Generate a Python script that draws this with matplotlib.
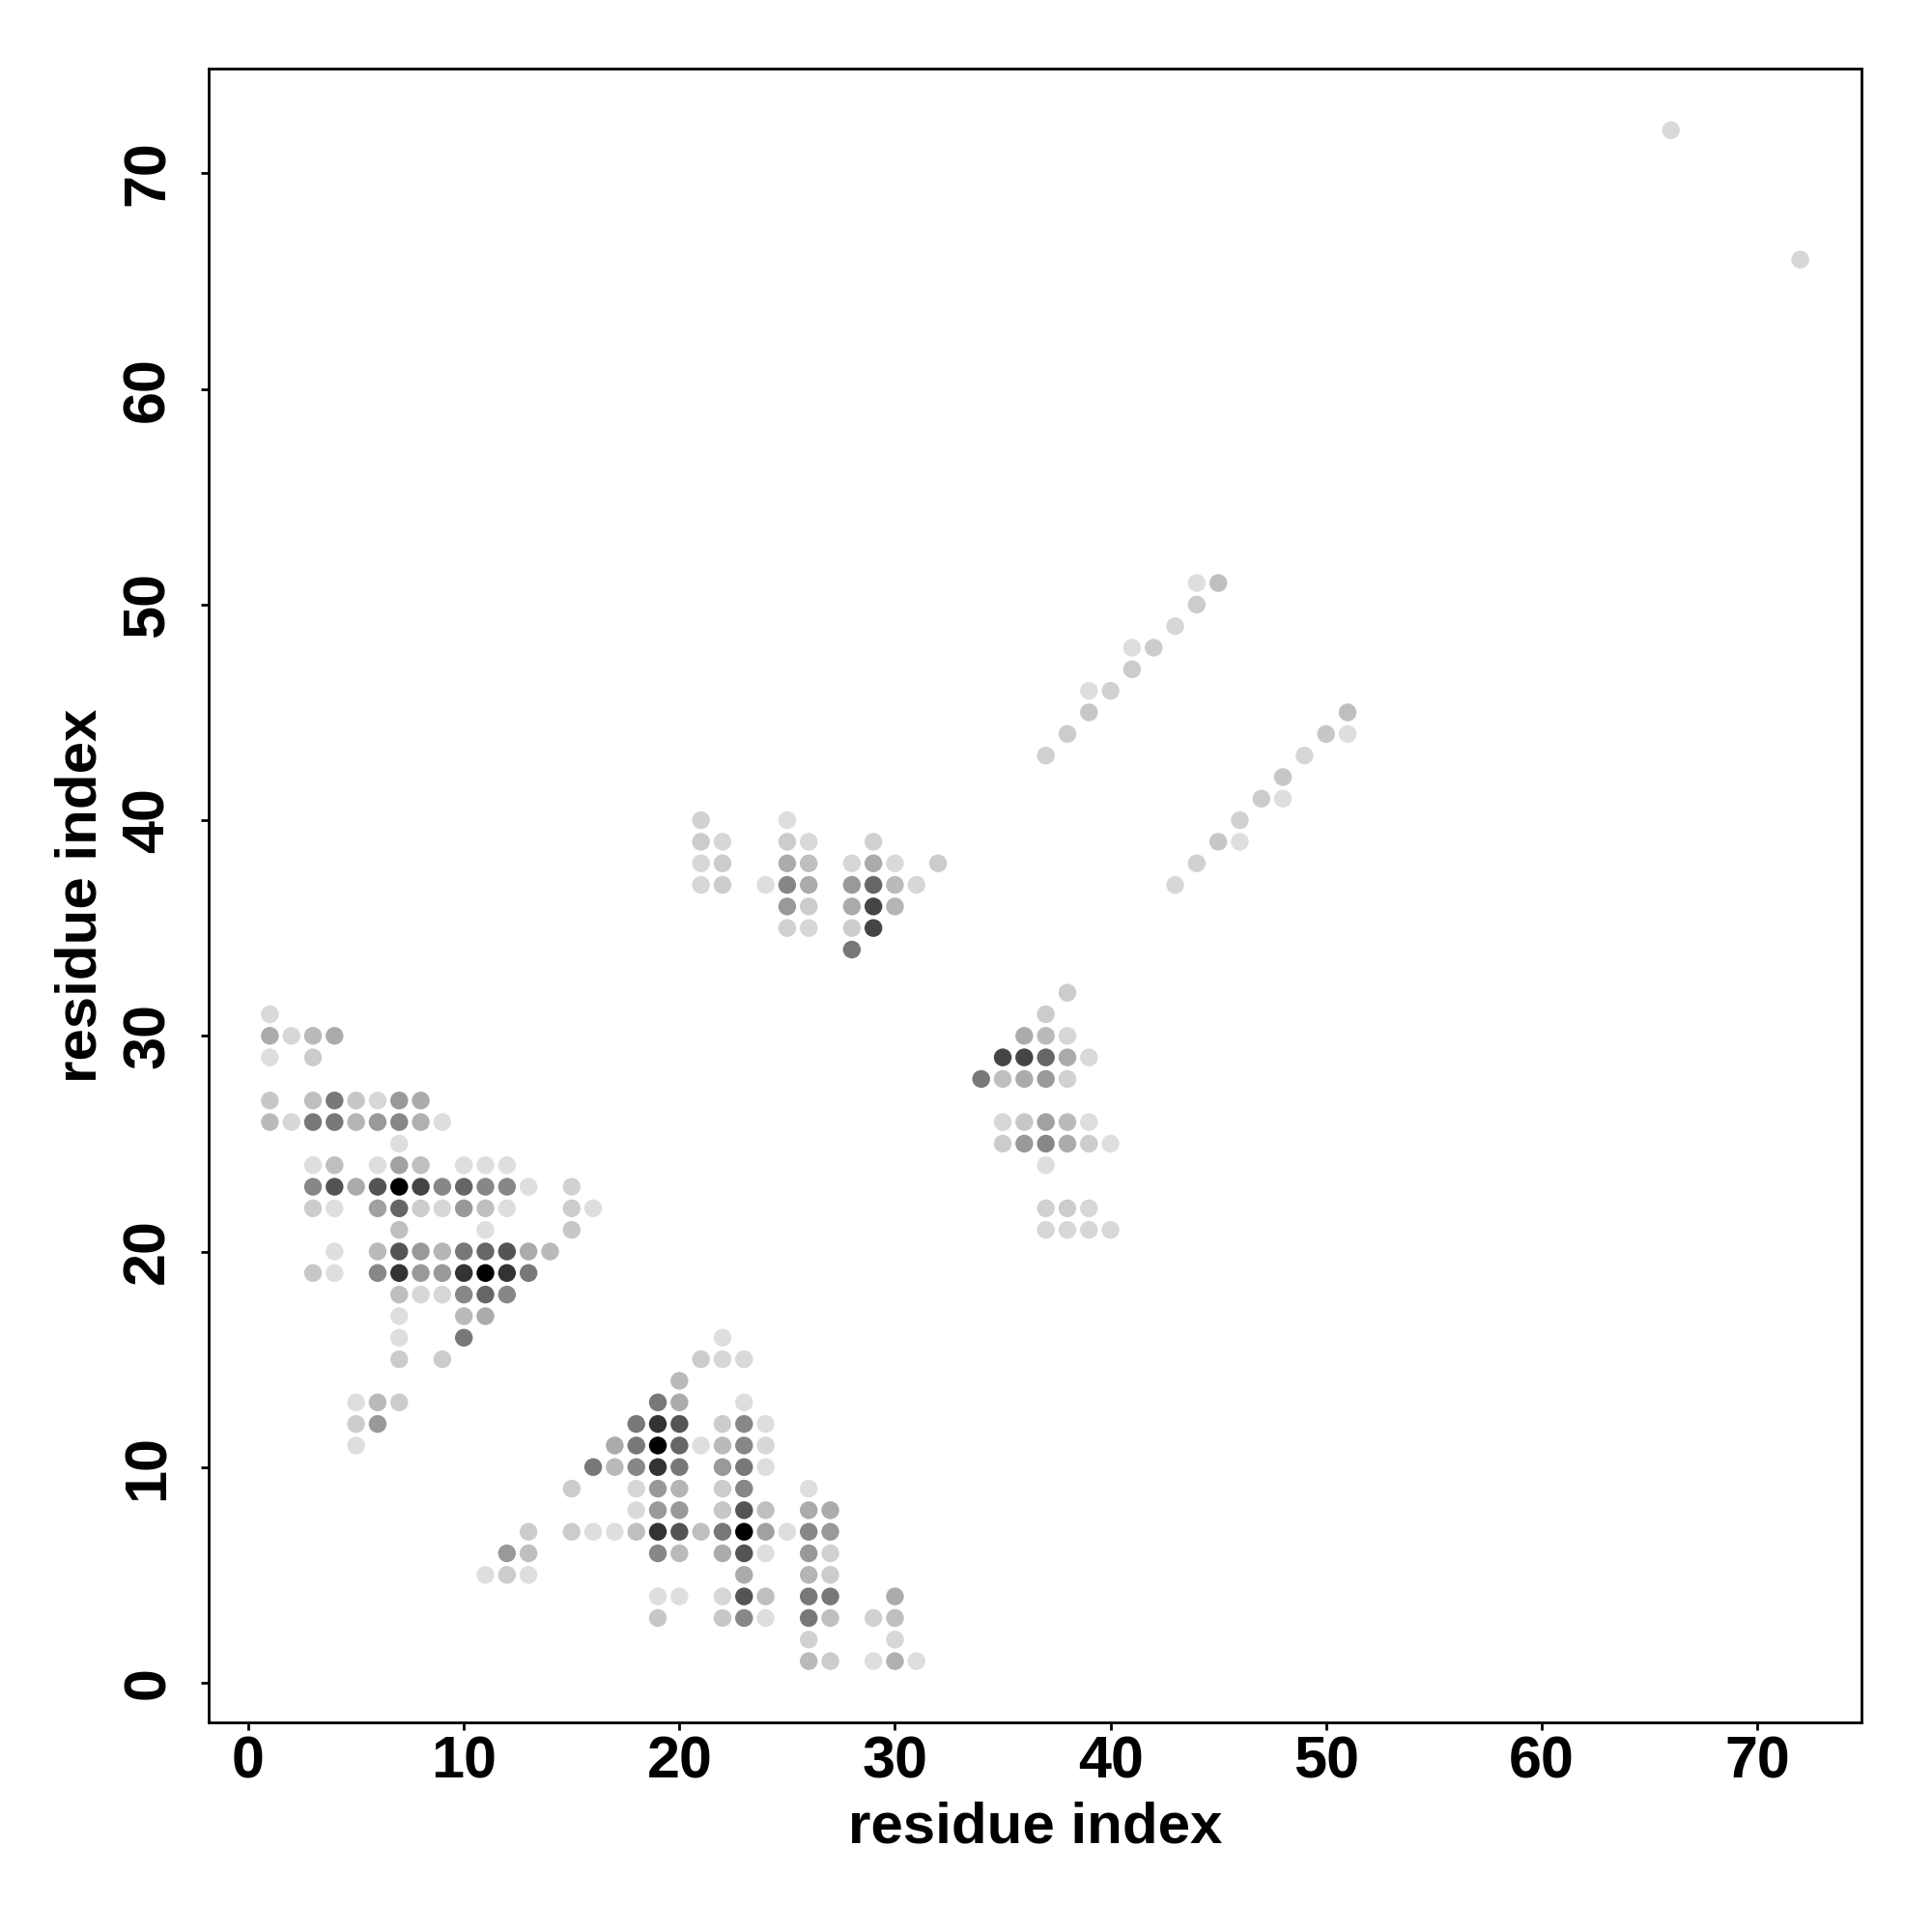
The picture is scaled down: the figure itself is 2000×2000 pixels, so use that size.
import matplotlib
matplotlib.use("Agg")
import matplotlib.pyplot as plt
from matplotlib.colors import LinearSegmentedColormap

# contact map: residue pairs (i, j) and contact strength (0 = white, 1 = black)
res_i = [
    1,                                   # row 31
    1, 2, 3, 4,                          # row 30
    1, 3,                                # row 29
    1, 3, 4, 5, 6, 7, 8,                 # row 27
    1, 2, 3, 4, 5, 6, 7, 8, 9,           # row 26
    7,                                   # row 25
    3, 4, 6, 7, 8, 10, 11, 12,           # row 24
    3, 4, 5, 6, 7, 8, 9, 10, 11, 12, 13, 15,   # row 23
    3, 4, 6, 7, 8, 9, 10, 11, 12, 15, 16,      # row 22
    7, 11, 15,                           # row 21
    4, 6, 7, 8, 9, 10, 11, 12, 13, 14,   # row 20
    3, 4, 6, 7, 8, 9, 10, 11, 12, 13,    # row 19
    7, 8, 9, 10, 11, 12,                 # row 18
    7, 10, 11,                           # row 17
    7, 10, 22,                           # row 16
    7, 9, 21, 22, 23,                    # row 15
    20,                                  # row 14
    5, 6, 7, 19, 20, 23,                 # row 13
    5, 6, 18, 19, 20, 22, 23, 24,        # row 12
    5, 17, 18, 19, 20, 21, 22, 23, 24,   # row 11
    16, 17, 18, 19, 20, 22, 23, 24,      # row 10
    15, 18, 19, 20, 22, 23, 26,          # row 9
    18, 19, 20, 22, 23, 24, 26, 27,      # row 8
    13, 15, 16, 17, 18, 19, 20, 21, 22, 23, 24, 25, 26, 27,   # row 7
    12, 13, 19, 20, 22, 23, 24, 26, 27,  # row 6
    11, 12, 13, 23, 26, 27,              # row 5
    19, 20, 22, 23, 24, 26, 27, 30,      # row 4
    19, 22, 23, 24, 26, 27, 29, 30,      # row 3
    26, 30,                              # row 2
    26, 27, 29, 30, 31,                  # row 1
    21, 25,                              # row 40
    21, 22, 25, 26, 29,                  # row 39
    21, 22, 25, 26, 28, 29, 30, 32,      # row 38
    21, 22, 24, 25, 26, 28, 29, 30, 31,  # row 37
    25, 26, 28, 29, 30,                  # row 36
    25, 26, 28, 29,                      # row 35
    28,                                  # row 34
    38, 37, 36, 37, 38,                  # rows 32-30
    35, 36, 37, 38, 39,                  # row 29
    34, 35, 36, 37, 38,                  # row 28
    35, 36, 37, 38, 39,                  # row 26
    35, 36, 37, 38, 39, 40,              # row 25
    37,                                  # row 24
    37, 38, 39,                          # row 22
    37, 38, 39, 40,                      # row 21
    37, 38, 39, 39, 40, 41, 41, 42, 43, 44, 44, 45,   # upper diagonal
    43, 44, 45, 46, 46, 47, 48, 48, 49, 50, 51, 51,   # lower diagonal
    66, 72,
]
res_j = [
    31,
    30, 30, 30, 30,
    29, 29,
    27, 27, 27, 27, 27, 27, 27,
    26, 26, 26, 26, 26, 26, 26, 26, 26,
    25,
    24, 24, 24, 24, 24, 24, 24, 24,
    23, 23, 23, 23, 23, 23, 23, 23, 23, 23, 23, 23,
    22, 22, 22, 22, 22, 22, 22, 22, 22, 22, 22,
    21, 21, 21,
    20, 20, 20, 20, 20, 20, 20, 20, 20, 20,
    19, 19, 19, 19, 19, 19, 19, 19, 19, 19,
    18, 18, 18, 18, 18, 18,
    17, 17, 17,
    16, 16, 16,
    15, 15, 15, 15, 15,
    14,
    13, 13, 13, 13, 13, 13,
    12, 12, 12, 12, 12, 12, 12, 12,
    11, 11, 11, 11, 11, 11, 11, 11, 11,
    10, 10, 10, 10, 10, 10, 10, 10,
    9, 9, 9, 9, 9, 9, 9,
    8, 8, 8, 8, 8, 8, 8, 8,
    7, 7, 7, 7, 7, 7, 7, 7, 7, 7, 7, 7, 7, 7,
    6, 6, 6, 6, 6, 6, 6, 6, 6,
    5, 5, 5, 5, 5, 5,
    4, 4, 4, 4, 4, 4, 4, 4,
    3, 3, 3, 3, 3, 3, 3, 3,
    2, 2,
    1, 1, 1, 1, 1,
    40, 40,
    39, 39, 39, 39, 39,
    38, 38, 38, 38, 38, 38, 38, 38,
    37, 37, 37, 37, 37, 37, 37, 37, 37,
    36, 36, 36, 36, 36,
    35, 35, 35, 35,
    34,
    32, 31, 30, 30, 30,
    29, 29, 29, 29, 29,
    28, 28, 28, 28, 28,
    26, 26, 26, 26, 26,
    25, 25, 25, 25, 25, 25,
    24,
    22, 22, 22,
    21, 21, 21, 21,
    43, 44, 45, 46, 46, 47, 48, 48, 49, 50, 51, 51,
    37, 38, 39, 39, 40, 41, 41, 42, 43, 44, 44, 45,
    72, 66,
]
strength = [
    .15,
    .33, .16, .27, .33,
    .13, .20,
    .22, .25, .53, .22, .16, .40, .33,
    .27, .16, .53, .53, .29, .40, .47, .31, .13,
    .13,
    .13, .25, .13, .37, .25, .13, .13, .13,
    .47, .67, .33, .67, 1.0, .73, .47, .60, .47, .47, .13, .18,
    .20, .13, .37, .60, .20, .16, .40, .25, .13, .20, .13,
    .25, .13, .22,
    .13, .27, .67, .40, .29, .53, .60, .67, .33, .27,
    .22, .13, .47, .80, .40, .40, .80, 1.0, .80, .53,
    .25, .16, .16, .47, .60, .47,
    .13, .27, .33,
    .13, .53, .13,
    .20, .20, .20, .16, .15,
    .27,
    .13, .27, .20, .53, .33, .13,
    .20, .40, .53, .80, .67, .20, .47, .13,
    .13, .33, .53, 1.0, .60, .13, .27, .47, .16,
    .53, .27, .47, .80, .53, .40, .53, .13,
    .20, .16, .40, .29, .20, .47, .13,
    .15, .40, .40, .22, .67, .25, .33, .33,
    .20, .20, .13, .13, .25, .80, .67, .25, .53, 1.0, .37, .13, .47, .40,
    .40, .25, .47, .27, .33, .67, .13, .40, .18,
    .13, .20, .13, .33, .29, .20,
    .13, .13, .16, .67, .25, .53, .53, .33,
    .22, .22, .47, .13, .53, .25, .18, .25,
    .18, .16,
    .27, .20, .13, .31, .13,
    .18, .13,
    .20, .16, .20, .15, .18,
    .16, .20, .33, .25, .16, .33, .15, .20,
    .16, .20, .13, .47, .33, .40, .60, .27, .16,
    .40, .20, .33, .73, .29,
    .18, .16, .20, .73,
    .53,
    .20, .20, .33, .27, .16,
    .73, .73, .60, .33, .15,
    .53, .25, .33, .40, .18,
    .16, .22, .37, .27, .13,
    .20, .40, .47, .33, .20, .13,
    .13,
    .18, .20, .16,
    .16, .16, .16, .15,
    .18, .20, .22, .13, .18, .20, .13, .20, .16, .20, .13, .25,
    .16, .18, .22, .13, .18, .20, .13, .22, .16, .22, .13, .25,
    .15, .16,
]
tick_vals = [0, 10, 20, 30, 40, 50, 60, 70]

plt.rcParams["font.family"] = ["Liberation Sans", "DejaVu Sans"]
plt.rcParams["font.weight"] = "bold"

fig = plt.figure(figsize=(10, 10), dpi=200)
ax = fig.add_axes([0.108, 0.1085, 0.8555, 0.8558])

greys = LinearSegmentedColormap.from_list("wk", ["white", "black"])
ax.scatter(res_i, res_j, c=strength, cmap=greys, vmin=0, vmax=1,
           s=44, linewidths=0)

lo = min(min(res_i), min(res_j))
hi = max(max(res_i), max(res_j))
pad = (hi - lo) * 0.04
ax.set_xlim(lo - pad, hi + pad)
ax.set_ylim(lo - pad, hi + pad)

ax.set_xticks(tick_vals)
ax.set_yticks(tick_vals)
for sp in ax.spines.values():
    sp.set_linewidth(1.0)
ax.tick_params(direction="out", length=3, width=1, labelsize=22)
ax.tick_params(axis="x", pad=2)
ax.tick_params(axis="y", pad=9, labelrotation=90)
for lab in ax.get_yticklabels():
    lab.set_va("center")

ax.set_xlabel("residue index", fontsize=21.6, fontweight="bold", labelpad=4)
ax.set_ylabel("residue index", fontsize=21.6, fontweight="bold", labelpad=5)

fig.savefig("out.png", dpi=200, facecolor="white")
